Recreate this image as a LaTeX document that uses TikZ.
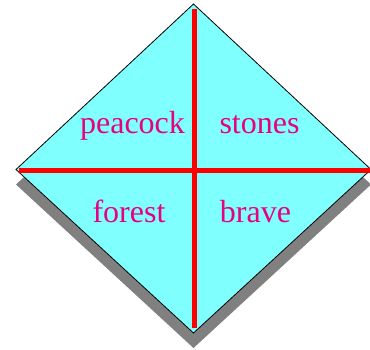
\documentclass[tikz,border=0pt]{standalone}
\usepackage{fontspec}
\setmainfont{Liberation Serif}
\definecolor{dfill}{RGB}{128,255,255}
\definecolor{dtext}{RGB}{232,0,130}
\definecolor{dshadow}{RGB}{128,128,128}
\begin{document}
\begin{tikzpicture}[x=1pt,y=-1pt,
  lbl/.style={text=dtext,font=\fontsize{32}{36}\selectfont,anchor=base,inner sep=0pt},
  redline/.style={draw=red,line width=5pt}]
\useasboundingbox (0,0) rectangle (370,349);
\coordinate (T) at (193.5,4);
\coordinate (L) at (16,169.5);
\coordinate (B) at (193.5,333);
\coordinate (R) at (371,169.5);
\fill[dshadow] ([yshift=-15pt]T) -- ([yshift=-15pt]L) -- ([yshift=-15pt]B) -- ([yshift=-15pt]R) -- cycle;
\draw[fill=dfill,line width=0.8pt] (T) -- (L) -- (B) -- (R) -- cycle;
\coordinate (vt) at (194,9);
\coordinate (vb) at (194,328);
\coordinate (hl) at (19,170);
\coordinate (hr) at (370,170);
\draw[redline] (vt) -- (vb);
\draw[redline] (hl) -- (hr);
\node[lbl] (p) at (132.5,133) {peacock};
\node[lbl] (s) at (259.5,133) {stones};
\node[lbl] (f) at (129,222) {forest};
\node[lbl] (b) at (255.5,222) {brave};
\end{tikzpicture}
\end{document}
